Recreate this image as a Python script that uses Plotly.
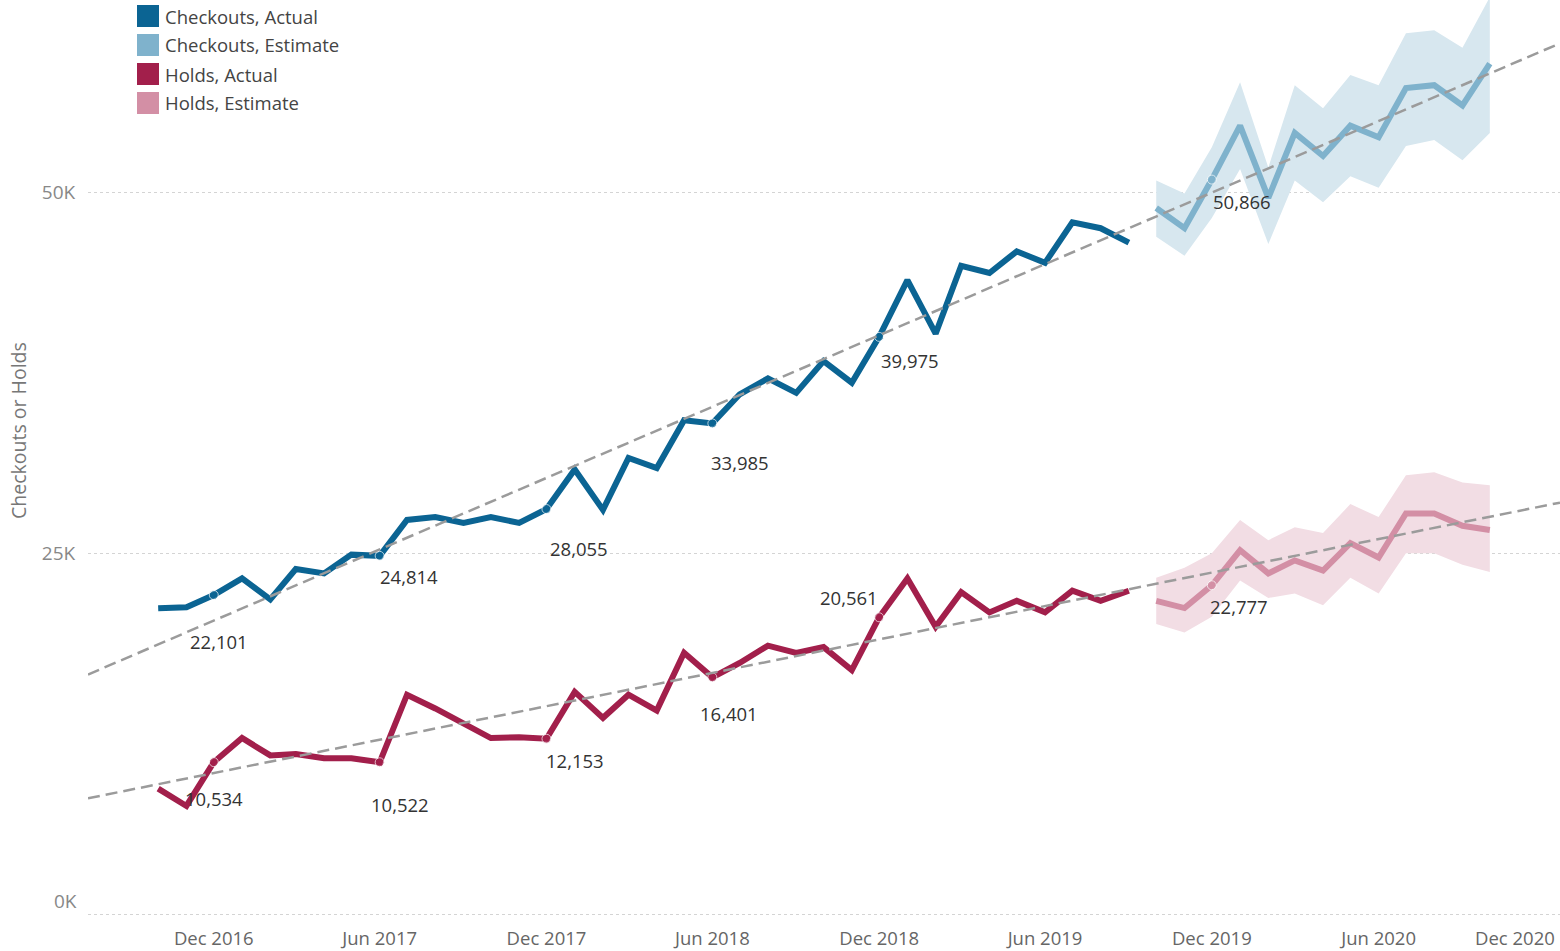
import pandas as pd
import plotly.graph_objects as go

# --- data ---
months_actual = pd.date_range("2016-10-01", "2019-09-01", freq="MS")
months_est = pd.date_range("2019-10-01", "2020-10-01", freq="MS")

checkouts_actual = [21180, 21250, 22101, 23250, 21800, 23900, 23600, 24900, 24814,
                    27300, 27500, 27100, 27500, 27100, 28055, 30800, 28000, 31600,
                    30900, 34200, 33985, 36000, 37100, 36100, 38300, 36800, 39975,
                    43900, 40200, 44900, 44400, 45900, 45100, 47900, 47500, 46500]
holds_actual = [8700, 7500, 10534, 12200, 11000, 11100, 10800, 10800, 10522,
                15200, 14250, 13200, 12200, 12250, 12153, 15400, 13600, 15200,
                14100, 18100, 16401, 17400, 18600, 18100, 18500, 16900, 20561,
                23250, 19900, 22300, 20900, 21700, 20900, 22400, 21700, 22400]

checkouts_est = [48900, 47500, 50866, 54600, 49600, 54100, 52500, 54600, 53800,
                 57200, 57400, 56000, 58900]
checkouts_est_hi = [50800, 49900, 53100, 57600, 51700, 57400, 55800, 58100, 57400,
                    61000, 61200, 60000, 63500]
checkouts_est_lo = [46900, 45600, 48200, 51600, 46400, 50800, 49300, 51100, 50300,
                    53200, 53600, 52200, 54100]

holds_est = [21700, 21200, 22777, 25200, 23600, 24500, 23800, 25700, 24700,
             27750, 27750, 26900, 26600]
holds_est_hi = [23300, 24000, 25000, 27300, 25900, 26800, 26400, 28400, 27500,
                30400, 30600, 29900, 29700]
holds_est_lo = [20100, 19500, 20600, 23100, 21900, 22200, 21400, 23300, 22200,
                25000, 25000, 24200, 23700]

trend_x = ["2016-07-16", "2020-12-17"]
checkouts_trend = [16600, 60300]
holds_trend = [8030, 28500]

label_months_actual = ["2016-12-01", "2017-06-01", "2017-12-01", "2018-06-01", "2018-12-01"]
label_months_est = ["2019-12-01"]

x_tick_vals = ["2016-12-01", "2017-06-01", "2017-12-01", "2018-06-01", "2018-12-01",
               "2019-06-01", "2019-12-01", "2020-06-01", "2020-12-01"]
x_tick_text = ["Dec 2016", "Jun 2017", "Dec 2017", "Jun 2018", "Dec 2018",
               "Jun 2019", "Dec 2019", "Jun 2020", "Dec 2020"]
y_tick_vals = [0, 25000, 50000]
y_tick_text = ["0K", "25K", "50K"]

legend_names = ["Checkouts, Actual", "Checkouts, Estimate", "Holds, Actual", "Holds, Estimate"]

# --- styling ---
FONT = "Open Sans"
C_ACT, C_EST, C_BAND = "#0b6493", "#7fb2cc", "#d7e7ef"
H_ACT, H_EST, H_BAND = "#a21f4b", "#d38fa5", "#f2dde4"
legend_colors = [C_ACT, C_EST, H_ACT, H_EST]
TICK_FONT = dict(family=FONT, size=18.5, color="#666666")
YTICK_FONT = dict(family=FONT, size=19, color="#888888")

# label offsets in pixels (dx, dy) for each labeled point
checkout_offsets = [(5, -46), (29, -21), (33, -39), (28, -39), (31, -24)]
checkout_est_offsets = [(30, -22)]
hold_offsets = [(0, -36), (20, -42), (29, -22), (17, -36), (-30, 20)]
hold_est_offsets = [(27, -21)]

W, H = 1560, 951
ML, MR, MT, MB = 88, 0, 0, 35
PW, PH = W - ML - MR, H - MT - MB
Y_RANGE = [-120, 63300]


def px(x, y):
    return (x - ML) / PW, 1 - (y - MT) / PH


def marker_sizes(months, labeled):
    keys = set(pd.to_datetime(labeled))
    return [9 if m in keys else 0 for m in months]


fig = go.Figure()

# confidence bands
for lo, hi, col in [(checkouts_est_lo, checkouts_est_hi, C_BAND),
                    (holds_est_lo, holds_est_hi, H_BAND)]:
    fig.add_trace(go.Scatter(x=months_est, y=lo, mode="lines", line=dict(width=0),
                             showlegend=False, hoverinfo="skip"))
    fig.add_trace(go.Scatter(x=months_est, y=hi, mode="lines", line=dict(width=0),
                             fill="tonexty", fillcolor=col, showlegend=False,
                             hoverinfo="skip"))

# lines
series = [
    (months_actual, checkouts_actual, C_ACT, label_months_actual, legend_names[0]),
    (months_est, checkouts_est, C_EST, label_months_est, legend_names[1]),
    (months_actual, holds_actual, H_ACT, label_months_actual, legend_names[2]),
    (months_est, holds_est, H_EST, label_months_est, legend_names[3]),
]
for xs, ys, col, lab, name in series:
    fig.add_trace(go.Scatter(x=xs, y=ys, mode="lines+markers", name=name,
                             line=dict(color=col, width=6),
                             marker=dict(size=marker_sizes(xs, lab), color=col),
                             showlegend=False))

# trend lines
for ys in [checkouts_trend, holds_trend]:
    fig.add_trace(go.Scatter(x=trend_x, y=ys, mode="lines", showlegend=False,
                             line=dict(color="#9b9b9b", width=2.5, dash="12px,6px"),
                             hoverinfo="skip"))

# data labels
annotations = []
label_sets = [
    (months_actual, checkouts_actual, label_months_actual, checkout_offsets),
    (months_est, checkouts_est, label_months_est, checkout_est_offsets),
    (months_actual, holds_actual, label_months_actual, hold_offsets),
    (months_est, holds_est, label_months_est, hold_est_offsets),
]
for xs, ys, lab, offs in label_sets:
    lookup = dict(zip(xs, ys))
    for m, (dx, dy) in zip(pd.to_datetime(lab), offs):
        annotations.append(dict(x=m, y=lookup[m], text=f"{lookup[m]:,}", showarrow=False,
                                xshift=dx, yshift=dy,
                                font=dict(family=FONT, size=18.5, color="#333333")))

# legend drawn by hand (square swatches like the original)
shapes = []
for i, (name, col) in enumerate(zip(legend_names, legend_colors)):
    cy = 16 + 29 * i
    x0, y0 = px(137, cy - 11)
    x1, y1 = px(159, cy + 11)
    shapes.append(dict(type="rect", xref="paper", yref="paper", x0=x0, x1=x1,
                       y0=y1, y1=y0, fillcolor=col, line=dict(width=0)))
    tx, ty = px(163, cy)
    annotations.append(dict(xref="paper", yref="paper", x=tx, y=ty, text=name,
                            showarrow=False, xanchor="left", yanchor="middle",
                            font=dict(family=FONT, size=18.5, color="#444444")))

# last x label sits at the right edge, pulled inward like the original
annotations.append(dict(x=x_tick_vals[-1], y=0, yref="paper", text=x_tick_text[-1],
                        showarrow=False, xanchor="right", yanchor="middle",
                        xshift=12, yshift=-21, font=TICK_FONT))
# bottom y label sits a little above its gridline
annotations.append(dict(xref="paper", x=0, y=y_tick_vals[0], text=y_tick_text[0],
                        showarrow=False, xanchor="right", yanchor="middle",
                        xshift=-9, yshift=13, font=YTICK_FONT))
# y axis title
tx, ty = px(18, 431)
annotations.append(dict(xref="paper", yref="paper", x=tx, y=ty,
                        text="Checkouts or Holds", textangle=-90, showarrow=False,
                        xanchor="center", yanchor="middle",
                        font=dict(family=FONT, size=19.5, color="#777777")))

fig.update_layout(
    width=W, height=H,
    margin=dict(l=ML, r=MR, t=MT, b=MB),
    plot_bgcolor="white", paper_bgcolor="white",
    font=dict(family=FONT, size=18, color="#777777"),
    shapes=shapes, annotations=annotations,
    showlegend=False,
)
fig.update_xaxes(
    type="date", range=trend_x,
    tickvals=x_tick_vals[:-1], ticktext=x_tick_text[:-1],
    showgrid=False, zeroline=False, showline=False,
    ticks="outside", ticklen=6, tickcolor="rgba(0,0,0,0)",
    tickfont=TICK_FONT,
)
fig.update_yaxes(
    range=Y_RANGE, tickvals=y_tick_vals, ticktext=[""] + y_tick_text[1:],
    showgrid=True, gridcolor="#d4d4d4", griddash="dot", gridwidth=1,
    zeroline=False, showline=False,
    ticks="outside", ticklen=8, tickcolor="rgba(0,0,0,0)",
    tickfont=YTICK_FONT,
)

# page body has a default 8px margin; drop it so the figure fills the window
fig.write_html("out.html", config={"displayModeBar": False},
               post_script="document.body.style.margin='0';")
